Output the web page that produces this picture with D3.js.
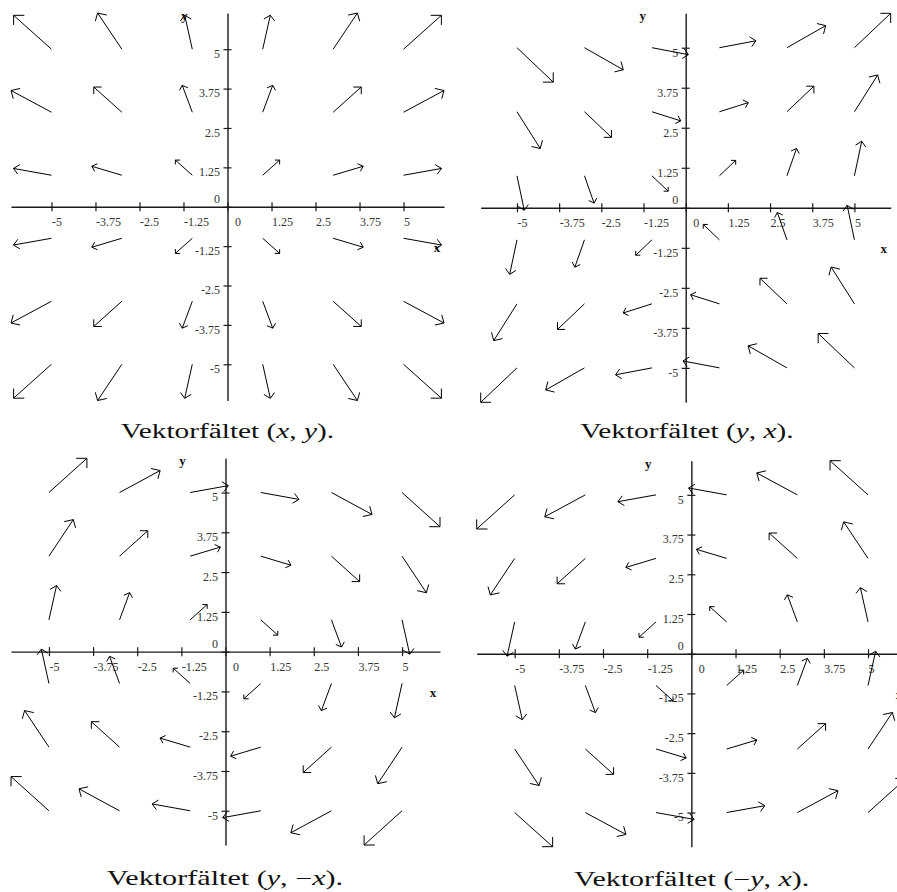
<!DOCTYPE html>
<html>
<head>
<meta charset="utf-8">
<script src="https://cdn.jsdelivr.net/npm/d3@7"></script>
<style>
  body { margin: 0; background: #fff; }
  svg { display: block; }
</style>
</head>
<body>
<script>
// Sample points of every field plot
const gridX = [-5, -3, -1, 1, 3, 5];
const gridY = [5, 3, 1, -1, -3, -5];

// Field components at the sample points: rows follow gridY, columns follow gridX
// (x, y)
const fieldA_u = [
  [-5, -3, -1, 1, 3, 5], [-5, -3, -1, 1, 3, 5], [-5, -3, -1, 1, 3, 5],
  [-5, -3, -1, 1, 3, 5], [-5, -3, -1, 1, 3, 5], [-5, -3, -1, 1, 3, 5]];
const fieldA_v = [
  [5, 5, 5, 5, 5, 5], [3, 3, 3, 3, 3, 3], [1, 1, 1, 1, 1, 1],
  [-1, -1, -1, -1, -1, -1], [-3, -3, -3, -3, -3, -3], [-5, -5, -5, -5, -5, -5]];
// (y, x)
const fieldB_u = [
  [5, 5, 5, 5, 5, 5], [3, 3, 3, 3, 3, 3], [1, 1, 1, 1, 1, 1],
  [-1, -1, -1, -1, -1, -1], [-3, -3, -3, -3, -3, -3], [-5, -5, -5, -5, -5, -5]];
const fieldB_v = [
  [-5, -3, -1, 1, 3, 5], [-5, -3, -1, 1, 3, 5], [-5, -3, -1, 1, 3, 5],
  [-5, -3, -1, 1, 3, 5], [-5, -3, -1, 1, 3, 5], [-5, -3, -1, 1, 3, 5]];
// (y, -x)
const fieldC_u = [
  [5, 5, 5, 5, 5, 5], [3, 3, 3, 3, 3, 3], [1, 1, 1, 1, 1, 1],
  [-1, -1, -1, -1, -1, -1], [-3, -3, -3, -3, -3, -3], [-5, -5, -5, -5, -5, -5]];
const fieldC_v = [
  [5, 3, 1, -1, -3, -5], [5, 3, 1, -1, -3, -5], [5, 3, 1, -1, -3, -5],
  [5, 3, 1, -1, -3, -5], [5, 3, 1, -1, -3, -5], [5, 3, 1, -1, -3, -5]];
// (-y, x)
const fieldD_u = [
  [-5, -5, -5, -5, -5, -5], [-3, -3, -3, -3, -3, -3], [-1, -1, -1, -1, -1, -1],
  [1, 1, 1, 1, 1, 1], [3, 3, 3, 3, 3, 3], [5, 5, 5, 5, 5, 5]];
const fieldD_v = [
  [-5, -3, -1, 1, 3, 5], [-5, -3, -1, 1, 3, 5], [-5, -3, -1, 1, 3, 5],
  [-5, -3, -1, 1, 3, 5], [-5, -3, -1, 1, 3, 5], [-5, -3, -1, 1, 3, 5]];

// Drawn arrow length (axis units), keyed by |u|,|v|
const arrowLength = {
  "1,1": 0.68, "1,3": 0.90, "3,1": 0.90, "1,5": 1.10, "5,1": 1.10,
  "3,3": 1.13, "3,5": 1.34, "5,3": 1.34, "5,5": 1.52
};

const tickValues = [-5, -3.75, -2.5, -1.25, 0, 1.25, 2.5, 3.75, 5];

// Caption segments: [text, italic]
const captionA = [["Vektorfältet (", false], ["x", true], [", ", false], ["y", true], [").", false]];
const captionB = [["Vektorfältet (", false], ["y", true], [", ", false], ["x", true], [").", false]];
const captionC = [["Vektorfältet (", false], ["y", true], [", \u2212", false], ["x", true], [").", false]];
const captionD = [["Vektorfältet (\u2212", false], ["y", true], [", ", false], ["x", true], [").", false]];

// Panel layout (pixels)
const panels = [
  { u: fieldA_u, v: fieldA_v, caption: captionA, box: { l: 11, r: 444, t: 13, b: 400.5 },
    cap: { x: 227.5, y: 437.5, w: 213.5 } },
  { u: fieldB_u, v: fieldB_v, caption: captionB, box: { l: 480.7, r: 890.7, t: 13.3, b: 402.3 },
    cap: { x: 687, y: 437.5, w: 213.5 } },
  { u: fieldC_u, v: fieldC_v, caption: captionC, box: { l: 11, r: 440, t: 458.3, b: 845 },
    cap: { x: 225, y: 884.5, w: 236.5 } },
  { u: fieldD_u, v: fieldD_v, caption: captionD, box: { l: 476.7, r: 906, t: 460.7, b: 846.7 },
    cap: { x: 691.7, y: 886, w: 235.5 } }
];

const W = 897, H = 892;
const svg = d3.select("body").append("svg")
  .attr("width", W).attr("height", H)
  .attr("viewBox", `0 0 ${W} ${H}`);
svg.append("rect").attr("width", W).attr("height", H).attr("fill", "#fff");

const serif = "'Liberation Serif', 'Times New Roman', Times, serif";

function buildArrows(p) {
  const arrows = [];
  gridY.forEach((y0, r) => {
    gridX.forEach((x0, c) => {
      const u = p.u[r][c], v = p.v[r][c];
      const m = Math.hypot(u, v);
      const L = arrowLength[`${Math.abs(u)},${Math.abs(v)}`];
      const dx = L * u / m, dy = L * v / m;
      const tx = x0 + dx, ty = y0 + dy;
      const ang = Math.atan2(dy, dx);
      const hb = 0.2 * L;
      const b1 = [tx - hb * Math.cos(ang - Math.PI / 4), ty - hb * Math.sin(ang - Math.PI / 4)];
      const b2 = [tx - hb * Math.cos(ang + Math.PI / 4), ty - hb * Math.sin(ang + Math.PI / 4)];
      arrows.push({ x0, y0, tx, ty, b1, b2 });
    });
  });
  return arrows;
}

panels.forEach(p => {
  const arrows = buildArrows(p);
  const xsAll = arrows.flatMap(a => [a.x0, a.tx, a.b1[0], a.b2[0]]);
  const ysAll = arrows.flatMap(a => [a.y0, a.ty, a.b1[1], a.b2[1]]);
  const x = d3.scaleLinear().domain(d3.extent(xsAll)).range([p.box.l, p.box.r]);
  const y = d3.scaleLinear().domain(d3.extent(ysAll)).range([p.box.b, p.box.t]);
  const g = svg.append("g");
  const ox = x(0), oy = y(0);

  // x axis
  const xAxis = g.append("g")
    .attr("transform", `translate(0,${oy})`)
    .call(d3.axisBottom(x).tickValues(tickValues).tickSizeInner(9).tickSizeOuter(0)
      .tickFormat(d => String(d)));
  xAxis.select(".domain").attr("stroke", "#1a1a1a").attr("stroke-width", 1.4);
  xAxis.selectAll(".tick line").attr("y1", -4.5).attr("y2", 4.5)
    .attr("stroke", "#1a1a1a").attr("stroke-width", 1.2);
  xAxis.selectAll(".tick text")
    .attr("text-anchor", "start")
    .attr("x", d => d === 0 ? 7 : 0)
    .attr("y", 19).attr("dy", null)
    .attr("fill", "#333")
    .style("font-family", serif).style("font-size", "12px");

  // y axis
  const yAxis = g.append("g")
    .attr("transform", `translate(${ox},0)`)
    .call(d3.axisLeft(y).tickValues(tickValues).tickSizeInner(8).tickSizeOuter(0)
      .tickFormat(d => String(d)));
  yAxis.select(".domain").attr("stroke", "#1a1a1a").attr("stroke-width", 1.4);
  yAxis.selectAll(".tick line").attr("x1", -4).attr("x2", 4)
    .attr("stroke", "#1a1a1a").attr("stroke-width", 1.2);
  yAxis.selectAll(".tick text")
    .attr("text-anchor", "end")
    .attr("x", -7.5)
    .attr("y", d => d === 0 ? -4.5 : 8.3).attr("dy", null)
    .attr("fill", "#333")
    .style("font-family", serif).style("font-size", "12px");
  g.selectAll(".tick text").each(function () { d3.select(this.parentNode).attr("font-family", null); });
  xAxis.attr("font-family", null).attr("font-size", null);
  yAxis.attr("font-family", null).attr("font-size", null);

  // axis names
  g.append("text").attr("x", p.box.r - 7).attr("y", oy + 45)
    .attr("text-anchor", "middle").attr("font-weight", "bold")
    .style("font-family", serif).style("font-size", "13px").attr("fill", "#111").text("x");
  g.append("text").attr("x", ox - 43).attr("y", p.box.t + 7)
    .attr("text-anchor", "middle").attr("font-weight", "bold")
    .style("font-family", serif).style("font-size", "13px").attr("fill", "#111").text("y");

  // arrows
  const ag = g.append("g").attr("fill", "none").attr("stroke", "#000").attr("stroke-width", 1);
  ag.selectAll("path").data(arrows).join("path")
    .attr("d", a => `M${x(a.x0)},${y(a.y0)}L${x(a.tx)},${y(a.ty)}` +
      `M${x(a.b1[0])},${y(a.b1[1])}L${x(a.tx)},${y(a.ty)}L${x(a.b2[0])},${y(a.b2[1])}`);

  // caption
  const cg = svg.append("g");
  const ct = cg.append("text").attr("x", 0).attr("y", 0).attr("text-anchor", "middle")
    .style("font-family", serif).style("font-size", "20px").attr("fill", "#111");
  p.caption.forEach(([t, it]) => {
    ct.append("tspan").attr("font-style", it ? "italic" : "normal").text(t);
  });
  const wNow = ct.node().getComputedTextLength();
  const k = p.cap.w / wNow;
  cg.attr("transform", `translate(${p.cap.x},${p.cap.y}) scale(${k},1)`);
});
</script>
</body>
</html>
